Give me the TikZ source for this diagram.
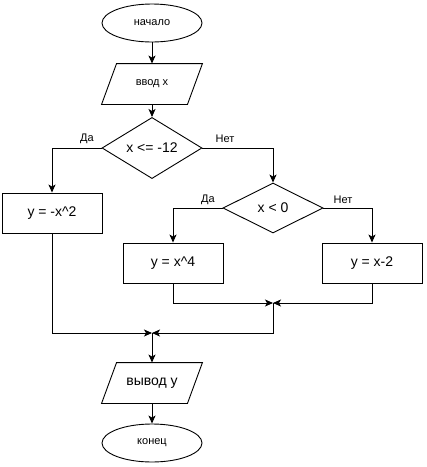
\documentclass[tikz,border=0pt]{standalone}
\usepackage{fontspec}
\setmainfont{Liberation Sans}
\usetikzlibrary{shapes.geometric,arrows.meta}
\begin{document}
\begin{tikzpicture}[x=1pt, y=-1pt, line width=0.9pt,
  term/.style={draw, ellipse, minimum width=100pt, minimum height=38pt, inner sep=0pt, font=\fontsize{11}{13}\selectfont},
  io/.style={rectangle, minimum width=100pt, minimum height=40pt, inner sep=0pt},
  proc/.style={draw, rectangle, minimum width=100pt, minimum height=40pt, inner sep=0pt, font=\fontsize{14}{16}\selectfont},
  cond/.style={draw, diamond, minimum width=100pt, minimum height=52pt, inner sep=0pt, font=\fontsize{14}{16}\selectfont},
  lbl/.style={font=\fontsize{11}{13}\selectfont},
  flow/.style={-{Stealth[length=8pt,width=7pt,inset=2pt]}}]
\useasboundingbox (0,0) rectangle (427,467);
\node[term] at (152,23) (start) {начало};
\node[io, font=\fontsize{11}{13}\selectfont] at (152,84) (input) {ввод x};
\draw ([xshift=15pt]input.north west) -- (input.north east) -- ([xshift=-15pt]input.south east) -- (input.south west) -- cycle;
\node[cond] at (152,148) (big) {x <= -12};
\node[proc] at (52,213) (sq) {y = -x\^{}2};
\node[cond, minimum height=50pt] at (273,208) (neg) {x < 0};
\node[proc] at (173,263) (quad) {y = x\^{}4};
\node[proc] at (372,263) (minus) {y = x-2};
\coordinate (join1) at (273,303);
\coordinate (join2) at (152,333);
\node[io, font=\fontsize{14}{16}\selectfont] at (152,383) (output) {вывод y};
\draw ([xshift=15pt]output.north west) -- (output.north east) -- ([xshift=-15pt]output.south east) -- (output.south west) -- cycle;
\node[term] at (152,443) (stop) {конец};
\node[lbl] at (87,139) (yes1) {Да};
\node[lbl] at (225,139) (no1) {Нет};
\node[lbl] at (208,200) (yes2) {Да};
\node[lbl] at (343,200) (no2) {Нет};
\draw[flow] (start) -- (input);
\draw[flow] (input) -- (big);
\draw[flow] (big.west) -| (sq);
\draw[flow] (big.east) -| (neg);
\draw[flow] (neg.west) -| (quad);
\draw[flow] (neg.east) -| (minus);
\draw[flow] (quad) |- (join1);
\draw[flow] (minus) |- (join1);
\draw[flow] (join1) |- (join2);
\draw[flow] (sq) |- (join2);
\draw[flow] (join2) -- (output);
\draw[flow] (output) -- (stop);
\end{tikzpicture}
\end{document}
